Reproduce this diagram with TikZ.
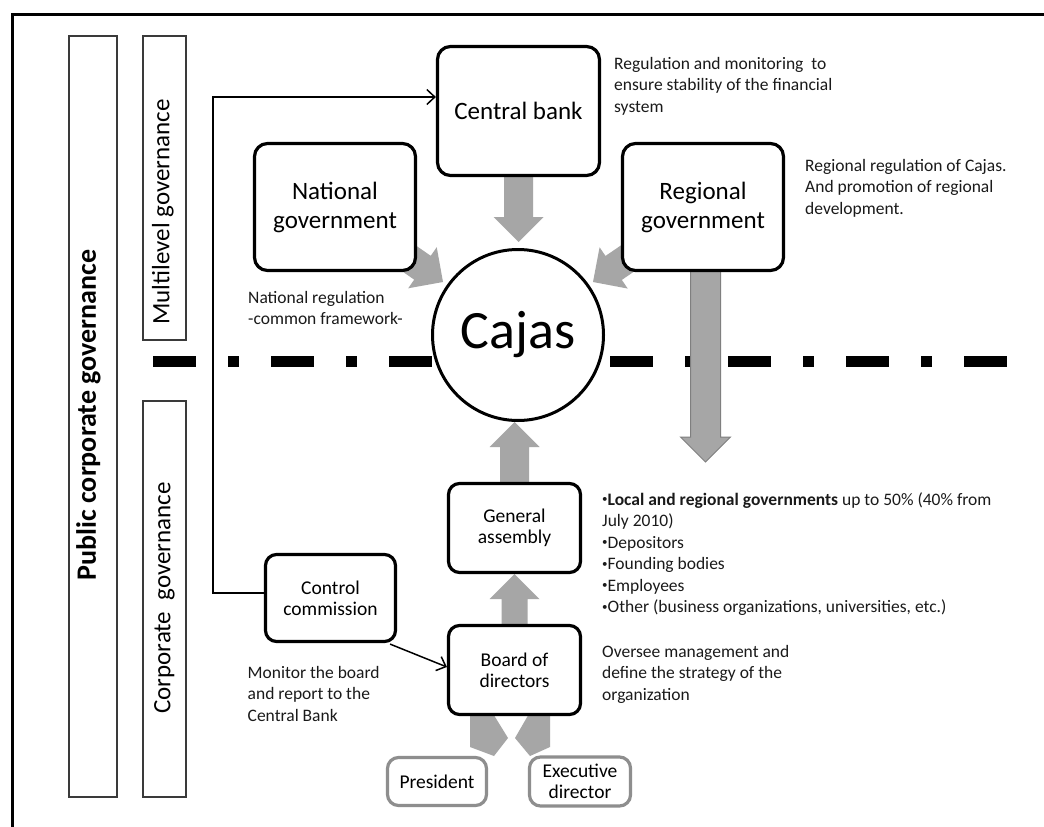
\documentclass[tikz,border=0pt]{standalone}
\usepackage{fontspec}
\setmainfont{Carlito}
\usetikzlibrary{calc,arrows.meta}
\pgfdeclarelayer{back}
\pgfdeclarelayer{mid}
\pgfsetlayers{back,mid,main}
\definecolor{arrowgray}{HTML}{A6A6A6}
\definecolor{arrowedge}{HTML}{7F7F7F}
\definecolor{boxgray}{HTML}{8E8E8E}
\definecolor{bargray}{HTML}{3A3A3A}
\definecolor{notecol}{HTML}{1A1A1A}
\newcommand{\blkarrow}[4][]{%
  \coordinate (hb) at ($(#3)!25pt!(#2)$);
  \path[blockarrow,#1] ($(#2)!#4!90:(#3)$) -- ($(hb)!#4!90:(#3)$) -- ($(hb)!25pt!90:(#3)$)
    -- (#3) -- ($(hb)!25pt!-90:(#3)$) -- ($(hb)!#4!-90:(#3)$) -- ($(#2)!#4!-90:(#3)$) -- cycle;}
\newcommand{\smbul}{\raisebox{2.5pt}{\fontsize{11}{11}\selectfont•}}
\begin{document}
\begin{tikzpicture}[x=1pt,y=-1pt,
  box/.style={draw=black, line width=3.2pt, rounded corners=13pt, fill=white, inner sep=0pt,
    align=center, font=\fontsize{25}{29}\selectfont},
  sbox/.style={draw=black, line width=3.2pt, rounded corners=11pt, fill=white, inner sep=0pt,
    align=center, font=\fontsize{19.5}{21}\selectfont},
  gbox/.style={sbox, draw=boxgray},
  bar/.style={draw=bargray, line width=1.5pt, inner sep=0pt},
  bartext/.style={rotate=90, anchor=mid, inner sep=0pt, font=\fontsize{25}{29}\selectfont},
  note/.style={anchor=north west, inner sep=0pt, align=left, font=\fontsize{17.5}{21.5}\selectfont, text=notecol},
  blockarrow/.style={fill=arrowgray},
  link/.style={line width=1.5pt, -{Straight Barb[length=8pt,width=15pt]}},
  dashdot/.style={line width=11pt, dash pattern=on 43pt off 32pt on 11pt off 32pt}]
\useasboundingbox (0,0) rectangle (1044,827);
\begin{pgfonlayer}{back}
  \fill[white] (0,0) rectangle (1044,827);
  \draw[line width=3pt] (1044,14) -- (12,14) -- (12,827);
  \draw[dashdot] (153,361) -- (480,361);
  \draw[dashdot] (610,361) -- (1007,361);
\end{pgfonlayer}
% side bars
\node[bar, minimum width=48pt, minimum height=761pt] (pcgbar) at (93,416.5) {};
\node[bar, minimum width=43pt, minimum height=304pt] (mlbar) at (164.5,188) {};
\node[bar, minimum width=43pt, minimum height=396pt] (cgbar) at (164.5,599) {};
\node[bartext, font=\fontsize{28}{32}\selectfont\bfseries] (pcgtxt) at (93.5,415) {Public corporate governance};
\node[bartext] (mltxt) at (167,212) {Multilevel governance};
\node[bartext] (cgtxt) at (168,598) {Corporate\ \ governance};
% main nodes
\node[box, minimum width=162pt, minimum height=129pt] (cb) at (518.5,111) {Central bank};
\node[box, minimum width=161pt, minimum height=127pt] (ng) at (335,207) {National\\government};
\node[box, minimum width=161pt, minimum height=127pt] (rg) at (703,207) {Regional\\government};
\node[circle, draw=black, line width=3pt, fill=white, minimum size=171pt, inner sep=0pt,
  font=\fontsize{54}{60}\selectfont] (cajas) at (518,335) {Cajas};
\node[sbox, minimum width=132pt, minimum height=89pt] (ga) at (514.5,528) {General\\assembly};
\node[sbox, minimum width=132pt, minimum height=89pt] (bd) at (514.5,670) {Board of\\directors};
\node[sbox, minimum width=130pt, minimum height=87pt] (cc) at (330.5,598) {Control\\commission};
\node[gbox, minimum width=99pt, minimum height=48pt] (pres) at (437,781.5) {President};
\node[gbox, minimum width=101pt, minimum height=49pt] (exec) at (580,781.5) {Executive\\director};
% gray block arrows
\coordinate (cbtip) at ($(cajas.north)+(0.5,-6)$);
\coordinate (ngtip) at ($(cajas.center)+(-75,-53)$);
\coordinate (rgtip) at ($(cajas.center)+(75,-53)$);
\coordinate (rgtop) at ($(rg.center)+(2.5,0)$);
\coordinate (rgdown) at (705.5,462);
\coordinate (gatip) at (ga.center |- cajas.south);
\begin{pgfonlayer}{mid}
  \blkarrow{cb.center}{cbtip}{14.5pt}
  \blkarrow{ng.center}{ngtip}{14.5pt}
  \blkarrow{rg.center}{rgtip}{14.5pt}
  \blkarrow[draw=arrowedge, line width=1pt]{rgtop}{rgdown}{15pt}
  \blkarrow{ga.center}{gatip}{14.5pt}
  \blkarrow{bd.center}{ga.south}{13pt}
  \fill[arrowgray] (470,712) -- (470,747) -- (494,756) -- (508,738) -- (492,712) -- cycle;
  \fill[arrowgray] (550,712) -- (550,747) -- (530,756) -- (515,738) -- (530,712) -- cycle;
\end{pgfonlayer}
% thin connectors
\draw[link] ([yshift=5pt]cc.west) -- ++(-51,0) |- ([yshift=14pt]cb.west);
\draw[link] ([xshift=-7pt,yshift=-1pt]cc.south east) -- ([yshift=3pt]bd.west);
% notes
\node[note] (n1) at (614,54) {\strut Regulation and monitoring\ \ to\\ensure stability of the financial\\system};
\node[note] (n2) at (805,156) {\strut Regional regulation of Cajas.\\And promotion of regional\\development.};
\node[note] (n3) at (248,288) {\strut National regulation\\-common framework-};
\node[note] (n4) at (602,490) {\strut \smbul\textbf{Local and regional governments} up to 50\% (40\% from\\July 2010)\\\smbul Depositors\\\smbul Founding bodies\\\smbul Employees\\\smbul Other (business organizations, universities, etc.)};
\node[note] (n5) at (602,642) {\strut Oversee management and\\define the strategy of the\\organization};
\node[note] (n6) at (247.5,663) {\strut Monitor the board\\and report to the\\Central Bank};
\end{tikzpicture}
\end{document}
